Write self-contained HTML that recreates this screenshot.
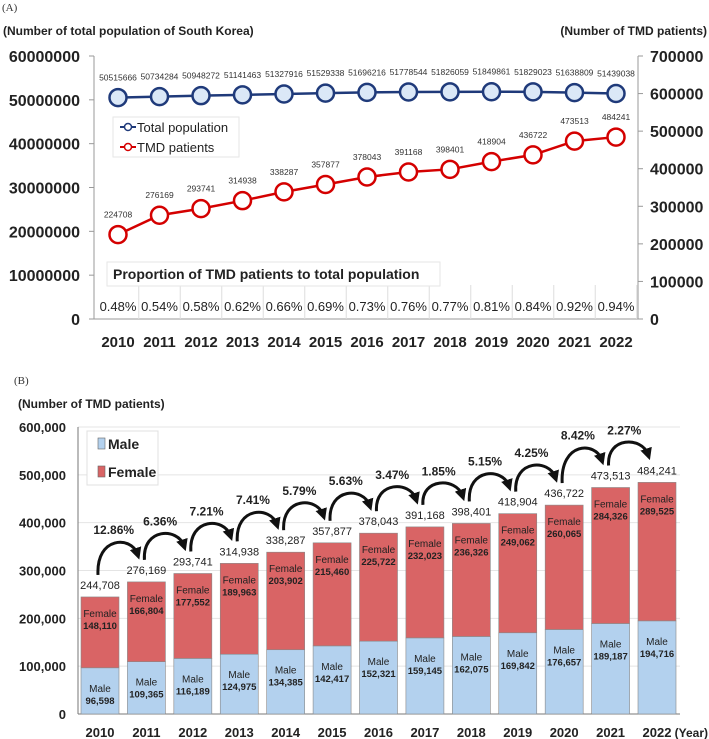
<!DOCTYPE html>
<html><head><meta charset="utf-8"><style>
body{margin:0;background:#fff;}
svg{display:block;font-family:"Liberation Sans",sans-serif;}
</style></head><body>
<svg id="c" width="709" height="739" viewBox="0 0 709 739"></svg>
<script>
const years=["2010","2011","2012","2013","2014","2015","2016","2017","2018","2019","2020","2021","2022"];
const population=[50515666,50734284,50948272,51141463,51327916,51529338,51696216,51778544,51826059,51849861,51829023,51638809,51439038];
const tmdPatients=[224708,276169,293741,314938,338287,357877,378043,391168,398401,418904,436722,473513,484241];
const proportions=["0.48%","0.54%","0.58%","0.62%","0.66%","0.69%","0.73%","0.76%","0.77%","0.81%","0.84%","0.92%","0.94%"];
const leftTicks=[0,10000000,20000000,30000000,40000000,50000000,60000000];
const rightTicks=[0,100000,200000,300000,400000,500000,600000,700000];
const male=[96598,109365,116189,124975,134385,142417,152321,159145,162075,169842,176657,189187,194716];
const female=[148110,166804,177552,189963,203902,215460,225722,232023,236326,249062,260065,284326,289525];
const totalsB=[244708,276169,293741,314938,338287,357877,378043,391168,398401,418904,436722,473513,484241];
const growth=["12.86%","6.36%","7.21%","7.41%","5.79%","5.63%","3.47%","1.85%","5.15%","4.25%","8.42%","2.27%"];
const bTicks=[0,100000,200000,300000,400000,500000,600000];

const svg=document.getElementById('c');
const NS="http://www.w3.org/2000/svg";
function el(tag,attrs,txt,parent){const e=document.createElementNS(NS,tag);for(const k in attrs)e.setAttribute(k,attrs[k]);if(txt!==undefined)e.textContent=txt;(parent||svg).appendChild(e);return e;}
const fmt=v=>v.toLocaleString('en-US');

// ---------- Chart A ----------
const ax=i=>118+i*(616-118)/12;
const ayL=v=>319-v/60000000*263;
const ayR=v=>319-v/700000*263;
let t;
t=el('text',{x:2,y:11,'font-size':11,'font-family':'Liberation Serif, serif',fill:'#333'},'(A)');

t=el('text',{x:3,y:35,'font-size':12,'font-weight':'bold',fill:'#222'},'(Number of total population of South Korea)');

t=el('text',{x:707,y:35,'font-size':12,'font-weight':'bold',fill:'#222','text-anchor':'end'},'(Number of TMD patients)');

el('line',{x1:94,y1:56,x2:94,y2:319,stroke:'#999'});
el('line',{x1:638,y1:56,x2:638,y2:319,stroke:'#999'});
el('line',{x1:94,y1:319,x2:638,y2:319,stroke:'#999'});
leftTicks.forEach(v=>{
  el('line',{x1:89,y1:ayL(v),x2:94,y2:ayL(v),stroke:'#999'});
  t=el('text',{x:80,y:ayL(v)+6,'font-size':16,'font-weight':'bold','text-anchor':'end',fill:'#222'},String(v));
  
});
rightTicks.forEach(v=>{
  el('line',{x1:638,y1:ayR(v),x2:643,y2:ayR(v),stroke:'#999'});
  t=el('text',{x:650,y:ayR(v)+6,'font-size':16,'font-weight':'bold',fill:'#222'},String(v));
  
});
years.forEach((y,i)=>{
  t=el('text',{x:ax(i),y:347,'font-size':15,'font-weight':'bold','text-anchor':'middle',fill:'#222'},y);
  
  el('line',{x1:ax(i)+20.75,y1:285,x2:ax(i)+20.75,y2:319,stroke:'#ddd'});
});
t=el('rect',{x:107,y:262,width:333,height:24,fill:'#fff',stroke:'#e6e6e6'});

t=el('text',{x:113,y:279,'font-size':14,'font-weight':'bold',fill:'#222'},'Proportion of TMD patients to total population');

proportions.forEach((p,i)=>{
  t=el('text',{x:ax(i),y:311,'font-size':13,'text-anchor':'middle',fill:'#222'},p);
  
});
function series(vals,yf,col,fill,name){
  const p=el('polyline',{points:vals.map((v,i)=>ax(i)+','+yf(v)).join(' '),fill:'none',stroke:col,'stroke-width':2.5});
  
  vals.forEach((v,i)=>{
    const c=el('circle',{cx:ax(i),cy:yf(v),r:8.5,fill:fill,stroke:col,'stroke-width':2.5});
    
    const l=el('text',{x:ax(i),y:yf(v)-17,'font-size':8.5,'text-anchor':'middle',fill:'#333'},String(v));
    
  });
}
series(population,ayL,'#1f3a7a','#dbe8f7','population');
series(tmdPatients,ayR,'#d40000','#fff','tmd');
t=el('rect',{x:113,y:117,width:126,height:40,fill:'#fff',stroke:'#e6e6e6'});

[['Total population','#1f3a7a',127],['TMD patients','#d40000',147]].forEach(([n,c,y])=>{
  el('line',{x1:120,y1:y,x2:136,y2:y,stroke:c,'stroke-width':2});
  el('circle',{cx:128,cy:y,r:3.5,fill:'#fff',stroke:c,'stroke-width':1.5});
  t=el('text',{x:137,y:y+5,'font-size':13,fill:'#222'},n);
  
});

// ---------- Chart B ----------
const bx=i=>100+i*(657-100)/12;
const by=v=>714-v/600000*287;
const bw=38;
t=el('text',{x:14,y:384,'font-size':11,'font-family':'Liberation Serif, serif',fill:'#333'},'(B)');

t=el('text',{x:18,y:408,'font-size':12,'font-weight':'bold',fill:'#222'},'(Number of TMD patients)');

bTicks.forEach(v=>{
  el('line',{x1:78,y1:by(v),x2:680,y2:by(v),stroke:'#e4e4e4'});
  t=el('text',{x:66,y:by(v)+5,'font-size':13,'font-weight':'bold','text-anchor':'end',fill:'#222'},fmt(v));
  
});
el('line',{x1:78,y1:by(600000),x2:78,y2:714,stroke:'#777'});
el('line',{x1:78,y1:714,x2:680,y2:714,stroke:'#777'});
years.forEach((y,i)=>{
  const x=bx(i)-bw/2;
  let r=el('rect',{x:x,y:by(male[i]),width:bw,height:714-by(male[i]),fill:'#b3d1ee',stroke:'#888','stroke-width':0.6});
  
  r=el('rect',{x:x,y:by(male[i]+female[i]),width:bw,height:by(male[i])-by(male[i]+female[i]),fill:'#d96465',stroke:'#888','stroke-width':0.6});
  
  const fy=by(male[i]+female[i])+20;
  t=el('text',{x:bx(i),y:fy,'font-size':10,'text-anchor':'middle',fill:'#222'},'Female');
  
  t=el('text',{x:bx(i),y:fy+12,'font-size':9.5,'font-weight':'bold','text-anchor':'middle',fill:'#222'},fmt(female[i]));
  
  const my=Math.min(by(male[i])+24,692);
  t=el('text',{x:bx(i),y:my,'font-size':10,'text-anchor':'middle',fill:'#222'},'Male');
  
  t=el('text',{x:bx(i),y:my+12,'font-size':9.5,'font-weight':'bold','text-anchor':'middle',fill:'#222'},fmt(male[i]));
  
  t=el('text',{x:bx(i),y:by(totalsB[i])-8,'font-size':11,'text-anchor':'middle',fill:'#222'},fmt(totalsB[i]));
  
  t=el('text',{x:bx(i),y:737,'font-size':13,'font-weight':'bold','text-anchor':'middle',fill:'#222'},y);
  
});
t=el('text',{x:708,y:737,'font-size':12,'font-weight':'bold','text-anchor':'end',fill:'#222'},'(Year)');

el('defs',{}).innerHTML='<marker id="ah" markerWidth="4" markerHeight="4" refX="2" refY="2" orient="auto"><path d="M0,0 L4,2 L0,4 z" fill="#111"/></marker>';
growth.forEach((g,i)=>{
  const x1=bx(i)-2,x2=bx(i+1)-9;
  const y1=by(totalsB[i])-22, y2=by(totalsB[i+1])-24;
  const yTop=Math.min(y1,y2)-22;
  const p=el('path',{d:`M${x1},${y1} C${x1-2},${yTop} ${x2-6},${yTop} ${x2},${y2-4}`,fill:'none',stroke:'#111','stroke-width':3,'marker-end':'url(#ah)'});
  
  t=el('text',{x:(x1+x2)/2-4,y:yTop-2,'font-size':12,'font-weight':'bold','text-anchor':'middle',fill:'#222'},g);
  
});
t=el('rect',{x:87,y:431,width:71,height:54,fill:'#fff',stroke:'#e0e0e0'});

[['Male','#b3d1ee',444],['Female','#d96465',472]].forEach(([n,c,y])=>{
  el('rect',{x:98,y:y-6,width:7,height:11,fill:c,stroke:'#666','stroke-width':0.6});
  t=el('text',{x:108,y:y+5,'font-size':14,'font-weight':'bold',fill:'#222'},n);
  
});
</script>
</body></html>
